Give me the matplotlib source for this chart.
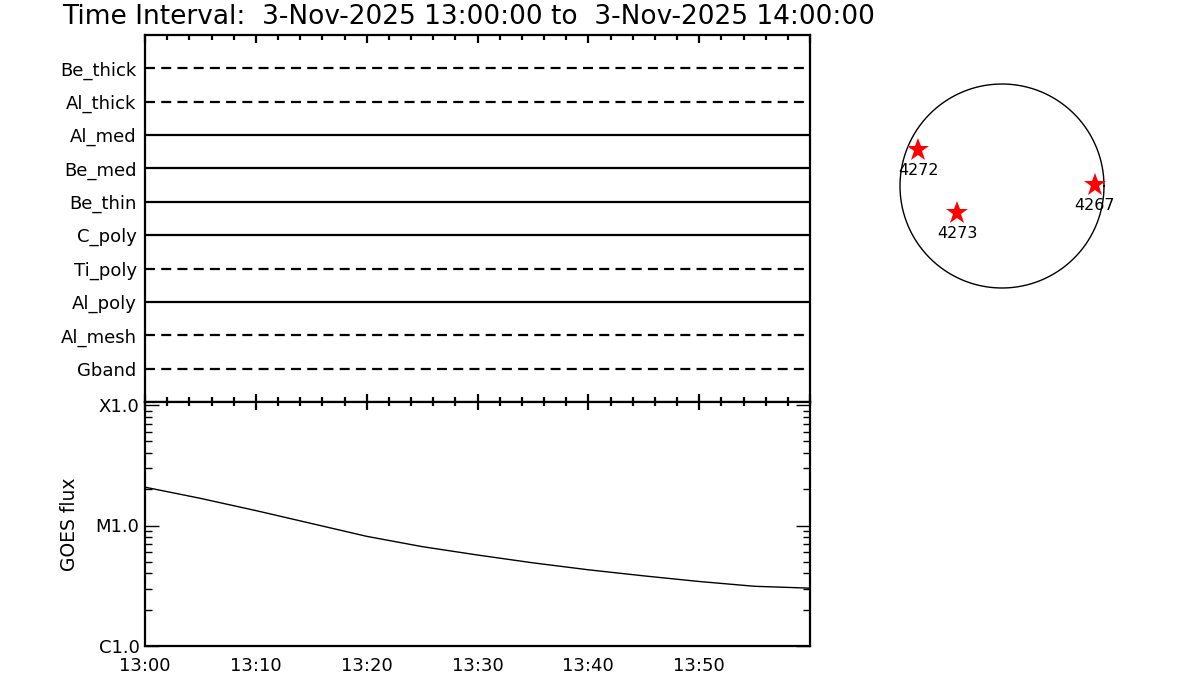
import matplotlib
matplotlib.use("Agg")
import matplotlib.pyplot as plt
import numpy as np
from matplotlib.ticker import FixedLocator, NullFormatter, LogLocator

# ---------------- data ----------------
title_text = "Time Interval:  3-Nov-2025 13:00:00 to  3-Nov-2025 14:00:00"

# XRT filter channels, listed bottom to top
channels = ["Gband", "Al_mesh", "Al_poly", "Ti_poly", "C_poly",
            "Be_thin", "Be_med", "Al_med", "Al_thick", "Be_thick"]
channel_used = [False, False, True, False, True, True, True, True, False, False]

# time in minutes after 13:00
time_ticks = [0, 10, 20, 30, 40, 50]
time_labels = ["13:00", "13:10", "13:20", "13:30", "13:40", "13:50"]

goes_minutes = [0, 5, 10, 15, 20, 25, 30, 35, 40, 45, 50, 55, 60]
goes_flux = [2.08e-5, 1.68e-5, 1.33e-5, 1.04e-5, 8.13e-6, 6.68e-6, 5.69e-6,
             4.90e-6, 4.29e-6, 3.82e-6, 3.43e-6, 3.13e-6, 3.02e-6]
flux_ticks = [1e-6, 1e-5, 1e-4]
flux_labels = ["C1.0", "M1.0", "X1.0"]

# active regions (solar x/y in arcsec)
ar_names = ["4272", "4273", "4267"]
ar_x = [-790, -424, 875]
ar_y = [339, -254, 9]
sun_radius = 960

# ---------------- figure ----------------
W, H = 1200, 700
fig = plt.figure(figsize=(W / 100, H / 100), dpi=100)

def px_axes(x0, y0, x1, y1):
    return fig.add_axes([x0 / W, 1 - y1 / H, (x1 - x0) / W, (y1 - y0) / H])

fs = 13
spine_lw = 1.6

# title
fig.text(62 / W, 1 - 17 / H, title_text, fontsize=19, ha="left", va="center")

# ---- top panel: filter channels ----
ax1 = px_axes(145, 35, 810, 402)
ypos = np.arange(1, len(channels) + 1)
for yv, used in zip(ypos, channel_used):
    if used:
        ax1.plot([0, 60], [yv, yv], color="black", lw=1.6, solid_capstyle="butt")
    else:
        ax1.plot([0, 60], [yv, yv], color="black", lw=1.6, linestyle=(0, (4.5, 2.8)))
ax1.set_xlim(0, 60)
ax1.set_ylim(0, len(channels) + 1)
ax1.set_yticks(ypos)
ax1.set_yticklabels(channels, fontsize=fs)
ax1.tick_params(axis="y", length=0, pad=6)
ax1.set_xticks(time_ticks + [60])
ax1.xaxis.set_minor_locator(FixedLocator(np.arange(0, 61, 2)))
ax1.tick_params(axis="x", which="both", direction="in", top=True, bottom=True,
                labelbottom=False, labeltop=False, width=1.6)
ax1.tick_params(axis="x", which="major", length=6)
ax1.tick_params(axis="x", which="minor", length=3.5)
for s in ax1.spines.values():
    s.set_linewidth(spine_lw)

# ---- bottom panel: GOES flux ----
ax2 = px_axes(145, 402, 810, 646)
ax2.plot(goes_minutes, goes_flux, color="black", lw=1.0)
ax2.set_yscale("log")
ax2.set_xlim(0, 60)
ax2.set_ylim(1e-6, 10 ** (-4 + 3 / 120.5))
ax2.set_yticks(flux_ticks)
ax2.set_yticklabels(flux_labels, fontsize=fs)
ax2.yaxis.set_minor_locator(LogLocator(base=10, subs=np.arange(2, 10)))
ax2.yaxis.set_minor_formatter(NullFormatter())
ax2.tick_params(axis="y", which="both", direction="in", left=True, right=True,
                width=1.0, pad=4)
ax2.tick_params(axis="y", which="major", length=10)
ax2.tick_params(axis="y", which="minor", length=5)
ax2.set_xticks(time_ticks)
ax2.set_xticklabels(time_labels, fontsize=fs)
ax2.xaxis.set_minor_locator(FixedLocator(np.arange(0, 61, 2)))
ax2.tick_params(axis="x", which="both", direction="in", top=True, bottom=False,
                width=1.6, pad=8)
ax2.tick_params(axis="x", which="major", length=6)
ax2.tick_params(axis="x", which="minor", length=3)
ax2.set_ylabel("GOES flux", fontsize=13.5, labelpad=12)
for s in ax2.spines.values():
    s.set_linewidth(spine_lw)

# ---- solar disk with active regions ----
scale = sun_radius / 102.0  # arcsec per pixel
half = 112
ax3 = px_axes(1002 - half, 186 - half, 1002 + half, 186 + half)
ax3.set_xlim(-half * scale, half * scale)
ax3.set_ylim(-half * scale, half * scale)
ax3.axis("off")
theta = np.linspace(0, 2 * np.pi, 400)
ax3.plot(sun_radius * np.cos(theta), sun_radius * np.sin(theta), color="black", lw=1.0)
ax3.plot(ar_x, ar_y, linestyle="none", marker="*", color="red", markersize=17,
         markeredgewidth=0)
for name, x, y in zip(ar_names, ar_x, ar_y):
    ax3.annotate(name, (x, y), xytext=(0, -14.5), textcoords="offset points",
                 ha="center", va="center", fontsize=11.5)

fig.savefig("out.png", dpi=100)
